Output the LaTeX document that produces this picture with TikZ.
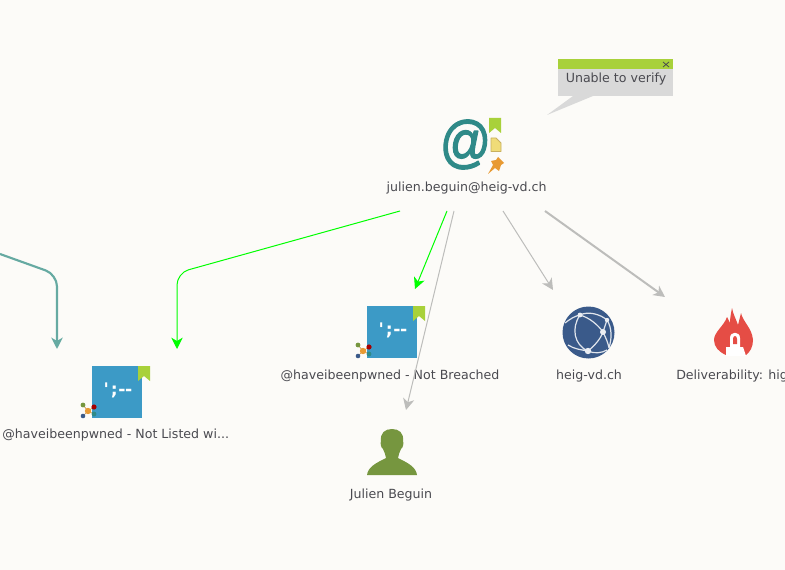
\documentclass[tikz,border=0pt]{standalone}
\usepackage{fontspec}
\setmainfont{DejaVu Sans}
\newfontfamily\glyphfont[FakeBold=2.2]{Liberation Sans}
\newfontfamily\termfont{DejaVu Sans}
\usetikzlibrary{arrows.meta}
\definecolor{paper}{HTML}{FCFBF8}
\definecolor{labelgray}{HTML}{4A4A50}
\definecolor{tealline}{HTML}{66AAA2}
\definecolor{graytip}{HTML}{BDBDBB}
\definecolor{mailteal}{HTML}{2F8A88}
\definecolor{leaf}{HTML}{A8D13A}
\definecolor{pwnblue}{HTML}{3C9AC6}
\definecolor{pinorange}{HTML}{E89A33}
\definecolor{globeblue}{HTML}{3A5A8A}
\definecolor{flamered}{HTML}{E54D45}
\definecolor{personolive}{HTML}{76963F}
\definecolor{noteyellow}{HTML}{F0DC78}
\definecolor{noteedge}{HTML}{C8B060}
\tikzset{
	lbl/.style={font=\fontsize{9.45}{11}\selectfont, text=labelgray, inner sep=0pt},
	grayline/.style={draw=graytip, line width=.75pt},
	tip/.style={>={Stealth[length=8.5pt,width=8.5pt,inset=2.5pt]}},
}
\begin{document}
\begin{tikzpicture}[x=.75pt, y=-.75pt, line join=round, tip]
	\useasboundingbox (0,0) rectangle (785,570);
	\clip (0,0) rectangle (785,570);
	\fill[paper] (0,0) rectangle (785,570);
	% tooltip
	\fill[gray!30] (573,96)--(547,115)--(593,96)--cycle;
	\fill[gray!30] (558,69) rectangle (673,96);
	\fill[leaf] (558,59) rectangle (673,69);
	\draw[labelgray, line width=.6pt] (663,62)--(669,67) (669,62)--(663,67);
	\node[lbl] (verify) at (616,79) {Unable to verify};
	% mail icon
	\node[inner sep=0pt, text=mailteal, font=\glyphfont\fontsize{43}{43}\selectfont, xscale=.88] (mail) at (465.5,144.5) {@};
	\fill[leaf] (489,118)--(501,118)--(501,133)--(495,128)--(489,133)--cycle;
	\filldraw[fill=noteyellow, draw=noteedge, line width=.6pt] (491,138)--(496,138)--(501,143)--(501,151.5)--(491,151.5)--cycle;
	\fill[pinorange] (488,174)--(493,165)--(491,161)--(496,160)--(498,157)--(504,163)--(501,165)--(499,171)--(495,168)--cycle;
	\node[lbl] (maillabel) at (466.5,188) {julien.beguin@heig-vd.ch};
	% pwned icons
	\foreach \nm/\dx/\dy in {breached/0/0, listed/-275/60}{
		\begin{scope}[shift={(\dx,\dy)}]
			\fill[pwnblue] (367,306) rectangle (417,358);
			\node[inner sep=0pt, text=white, font=\termfont\fontsize{13}{13}\selectfont\bfseries] (\nm) at (393,330) {\char39\kern1.5pt;\kern.3pt-\kern-.3pt-};
			\fill[leaf] (413,306)--(425,306)--(425,321)--(419,316)--(413,321)--cycle;
			\draw[pinorange!70!gray, line width=.5pt] (363,351)--(358,345) (363,351)--(369,347) (363,351)--(369,354) (363,351)--(358,356);
			\fill[pinorange] (363,351) circle (3.2);
			\fill[personolive] (358,345) circle (2.4);
			\fill[red!65!black] (369,347) circle (2.6);
			\fill[mailteal] (369,354) circle (2.4);
			\fill[globeblue] (358,356) circle (2.3);
		\end{scope}
	}
	\node[lbl] (breachedlabel) at (390,376) {@haveibeenpwned - Not Breached};
	\node[lbl, anchor=west] (listedlabel) at (2,435) {@haveibeenpwned - Not Listed wi...};
	% globe
	\node[circle, fill=globeblue, minimum size=39pt, inner sep=0pt] (globe) at (588.5,332.5) {};
	\draw[white!85!globeblue, line width=.9pt] (565,323) .. controls (570,319) and (575,316) .. (580,315)
		(580,315) .. controls (588,311) and (600,314) .. (607,320)
		(580,315) .. controls (571,328) and (574,345) .. (588,351)
		(580,315) .. controls (590,318) and (598,325) .. (603,332)
		(603,332) .. controls (600,340) and (594,346) .. (588,351)
		(607,320)--(603,332)
		(607,320) .. controls (612,328) and (612,338) .. (609,348)
		(603,332) .. controls (606,338) and (608,343) .. (609,348)
		(588,351) .. controls (594,354) and (602,353) .. (607,350)
		(568,345) .. controls (574,349) and (582,350) .. (588,351);
	\foreach \x/\y/\r in {580/315/2.4, 607/320/2.2, 603/332/3, 588/351/3.2}\fill[white!90!globeblue](\x,\y)circle(\r);
	\node[lbl] (domainlabel) at (589,376) {heig-vd.ch};
	% flame
	\fill[flamered] (732,308) .. controls (733,314) and (736,319) .. (738,325)
		.. controls (739,321) and (740,317) .. (741,313)
		.. controls (743,322) and (752,328) .. (753,340)
		.. controls (753,347) and (750,352) .. (746,355)
		-- (726,355)
		.. controls (719,352) and (714,347) .. (714,340)
		.. controls (714,332) and (724,326) .. (727,317)
		.. controls (728,319) and (729,321) .. (730,323)
		.. controls (730,318) and (731,313) .. (732,308) -- cycle;
	\fill[white] (726,356)--(726,347)--(730,347)--(730,338) .. controls (730,331) and (740,331) .. (740,338)
		--(740,347)--(743,347)--(746,356)--cycle;
	\fill[flamered] (733,344)--(733,339) .. controls (733,335) and (737,335) .. (737,339)--(737,344)--cycle;
	\node[lbl, anchor=west] (deliverlabel) at (676,376) {Deliverability: high};
	% person
	\fill[personolive] (367,475) .. controls (368,467) and (376,463) .. (386,458)
		.. controls (386,455) and (384,452) .. (383,449)
		.. controls (381,448) and (380,443) .. (381,441)
		.. controls (380,433) and (385,429) .. (392,429)
		.. controls (399,429) and (404,433) .. (403,441)
		.. controls (404,443) and (403,448) .. (401,449)
		.. controls (400,452) and (398,455) .. (398,458)
		.. controls (408,463) and (416,467) .. (417,475) -- cycle;
	\node[lbl] (personlabel) at (391,495) {Julien Beguin};
	% connectors
	\coordinate (offleft) at (0,254);
	\coordinate (listedtip) at (57,349);
	\coordinate (listedgreen) at (177,349);
	\coordinate (breachedtip) at (415,289);
	\coordinate (persontip) at (406,410);
	\coordinate (domaintip) at (553,290);
	\coordinate (delivertip) at (665,297);
	\coordinate (outa) at (400,211);
	\coordinate (outb) at (447,211);
	\coordinate (outc) at (454,211);
	\coordinate (outd) at (503,211);
	\coordinate (oute) at (545,211);
	\draw[->, tealline, line width=1.6pt, rounded corners=9pt] (offleft)--(57,274.5)--(listedtip);
	\draw[->, green, line width=.75pt, rounded corners=9pt] (outa)--(177,273)--(listedgreen);
	\draw[->, green, line width=.75pt] (outb)--(breachedtip);
	\draw[->, grayline] (outc)--(persontip);
	\draw[->, grayline] (outd)--(domaintip);
	\draw[->, grayline, line width=1.5pt] (oute)--(delivertip);
\end{tikzpicture}
\end{document}
